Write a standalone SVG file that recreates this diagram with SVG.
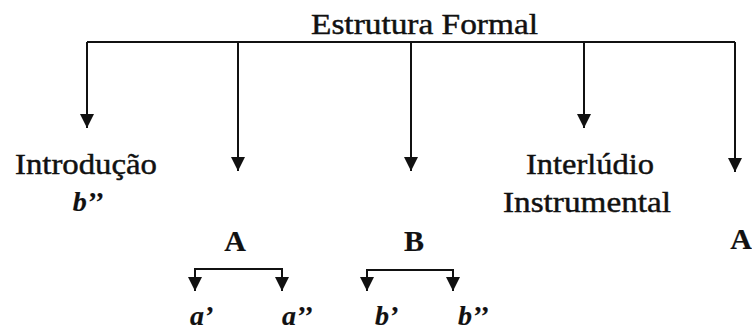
<svg xmlns="http://www.w3.org/2000/svg" width="752" height="330" viewBox="0 0 752 330">
<defs>
<style>
text{font-family:'Liberation Serif','Times New Roman',Times,serif;font-size:30px;fill:#111;stroke:#111;stroke-width:0.45;}
.b{font-weight:bold;stroke-width:0.2;}
.i{font-style:italic;font-weight:bold;font-size:28px;stroke-width:0.2;}
.c{stroke:#111;stroke-width:2;fill:none;}
.a{stroke:#111;stroke-width:2;fill:none;marker-end:url(#ah);}
</style>
<marker id="ah" markerUnits="userSpaceOnUse" markerWidth="14" markerHeight="14" viewBox="0 0 14 14" refX="14" refY="7" orient="auto">
<path d="M0,0 L14,7 L0,14 z" fill="#111"/>
</marker>
</defs>
<rect width="752" height="330" fill="#fff"/>
<g id="connectors">
<path class="c" d="M87,42 H735"/>
<path class="a" d="M87,42 V128"/>
<path class="a" d="M238,42 V171"/>
<path class="a" d="M411,42 V171"/>
<path class="a" d="M584,42 V128"/>
<path class="a" d="M735,42 V172"/>
<path class="c" d="M195,269 H282"/>
<path class="a" d="M195,268 V291"/>
<path class="a" d="M282,268 V291"/>
<path class="c" d="M367,270 H453"/>
<path class="a" d="M367,269 V291"/>
<path class="a" d="M453,269 V291"/>
</g>
<g id="title"><text x="311" y="34" textLength="227" lengthAdjust="spacingAndGlyphs">Estrutura Formal</text></g>
<g id="introducao">
<text x="15" y="174" textLength="142" lengthAdjust="spacingAndGlyphs">Introdução</text>
<text class="i" x="88" y="211" text-anchor="middle">b’’</text>
</g>
<g id="A1"><text class="b" x="235" y="251" text-anchor="middle">A</text></g>
<g id="B"><text class="b" x="414" y="251" text-anchor="middle">B</text></g>
<g id="interludio">
<text x="526" y="174" textLength="128" lengthAdjust="spacingAndGlyphs">Interlúdio</text>
<text x="503" y="212" textLength="168" lengthAdjust="spacingAndGlyphs">Instrumental</text>
</g>
<g id="A2"><text class="b" x="741" y="249" text-anchor="middle">A</text></g>
<g id="a1"><text class="i" x="190" y="325">a’</text></g>
<g id="a2"><text class="i" x="282" y="325">a’’</text></g>
<g id="b1"><text class="i" x="375" y="325">b’</text></g>
<g id="b2"><text class="i" x="458" y="325">b’’</text></g>
</svg>
